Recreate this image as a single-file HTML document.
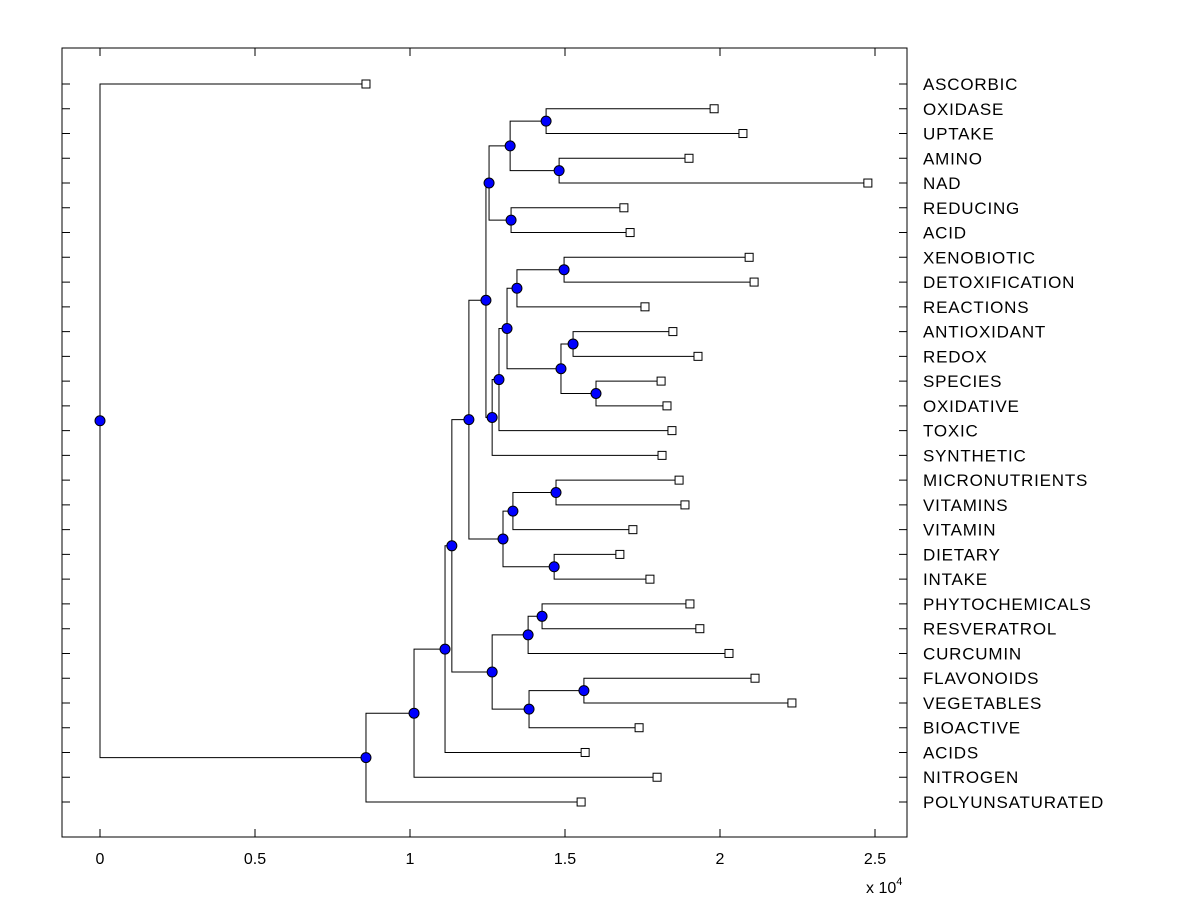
<!DOCTYPE html>
<html><head><meta charset="utf-8"><style>
body{margin:0;background:#fff}
svg text{font-family:"Liberation Sans",Arial,sans-serif;fill:#000}
</style></head><body>
<svg id="chart" width="1200" height="900" xmlns="http://www.w3.org/2000/svg">
<rect x="0" y="0" width="1200" height="900" fill="#fff"/>
<g id="links"></g><g id="marks"></g><g id="axes"></g>
</svg>
<script>
const leafNames=["ASCORBIC","OXIDASE","UPTAKE","AMINO","NAD","REDUCING","ACID","XENOBIOTIC","DETOXIFICATION","REACTIONS","ANTIOXIDANT","REDOX","SPECIES","OXIDATIVE","TOXIC","SYNTHETIC","MICRONUTRIENTS","VITAMINS","VITAMIN","DIETARY","INTAKE","PHYTOCHEMICALS","RESVERATROL","CURCUMIN","FLAVONOIDS","VEGETABLES","BIOACTIVE","ACIDS","NITROGEN","POLYUNSATURATED"];
const leafHeights=[0.858,1.981,2.074,1.900,2.477,1.690,1.710,2.094,2.110,1.758,1.848,1.929,1.810,1.829,1.845,1.813,1.868,1.887,1.719,1.677,1.774,1.903,1.935,2.029,2.113,2.232,1.739,1.565,1.797,1.552];
// merges: [childA, childB] ; leaves as "L#", nodes as "N#"
const mergeChildren=[
["L1","L2"],["L3","L4"],["N0","N1"],["L5","L6"],["N2","N3"],
["L7","L8"],["N5","L9"],["L10","L11"],["L12","L13"],["N7","N8"],
["N6","N9"],["N10","L14"],["N11","L15"],["N4","N12"],
["L16","L17"],["N14","L18"],["L19","L20"],["N15","N16"],["N13","N17"],
["L21","L22"],["N19","L23"],["L24","L25"],["N21","L26"],["N20","N22"],
["N18","N23"],["N24","L27"],["N25","L28"],["N26","L29"],["L0","N27"]];
const mergeHeights=[1.439,1.481,1.323,1.326,1.255,1.497,1.345,1.526,1.600,1.487,1.313,1.287,1.265,1.245,1.471,1.332,1.465,1.300,1.190,1.426,1.381,1.561,1.384,1.265,1.135,1.113,1.013,0.858,0.0];
const xTicks=[0,0.5,1,1.5,2,2.5];
const xTickLabels=["0","0.5","1","1.5","2","2.5"];

const NS="http://www.w3.org/2000/svg";
const L=62,R=907,T=48,B=837;
const X=v=>100+v*310;
const Y=i=>84+i*(802-84)/29;
function mk(tag,attrs,parent){const e=document.createElementNS(NS,tag);for(const k in attrs)e.setAttribute(k,attrs[k]);parent.appendChild(e);return e;}
const links=document.getElementById('links'),marks=document.getElementById('marks'),axes=document.getElementById('axes');
const pos={};
leafNames.forEach((n,i)=>{pos["L"+i]={x:X(leafHeights[i]),y:Y(i)};});
mergeChildren.forEach((c,i)=>{
  const a=pos[c[0]],b=pos[c[1]];const x=X(mergeHeights[i]);const y=(a.y+b.y)/2;
  pos["N"+i]={x,y};
  const p=mk('path',{d:`M${a.x},${a.y}H${x}V${b.y}H${b.x}`,fill:'none',stroke:'#000','stroke-width':1},links);
  
  
});
leafNames.forEach((n,i)=>{
  const p=pos["L"+i];
  const r=mk('rect',{x:p.x-4,y:p.y-4,width:8,height:8,fill:'#fff',stroke:'#000','stroke-width':1},marks);
  
  
  const t=mk('text',{x:923,y:Y(i)+6,'font-size':17,'letter-spacing':0.8},axes);t.textContent=n;
  
  
  const tk=mk('path',{d:`M${L},${Y(i)}h8M${R},${Y(i)}h-8`,stroke:'#000','stroke-width':1},axes);
  
  
});
mergeChildren.forEach((c,i)=>{
  const p=pos["N"+i];
  const e=mk('circle',{cx:p.x,cy:p.y,r:5,fill:'#0000ff',stroke:'#000','stroke-width':1},marks);
  
  
});
const box=mk('rect',{x:L,y:T,width:R-L,height:B-T,fill:'none',stroke:'#000','stroke-width':1},axes);


xTicks.forEach((v,i)=>{
  const tk=mk('path',{d:`M${X(v)},${B}v-8M${X(v)},${T}v8`,stroke:'#000','stroke-width':1},axes);
  
  
  const t=mk('text',{x:X(v),y:864,'font-size':16,'text-anchor':'middle'},axes);t.textContent=xTickLabels[i];
  
  
});
const ex=mk('text',{x:866,y:893,'font-size':16},axes);
ex.innerHTML='x 10<tspan dy="-8" font-size="11">4</tspan>';


</script>
</body></html>
